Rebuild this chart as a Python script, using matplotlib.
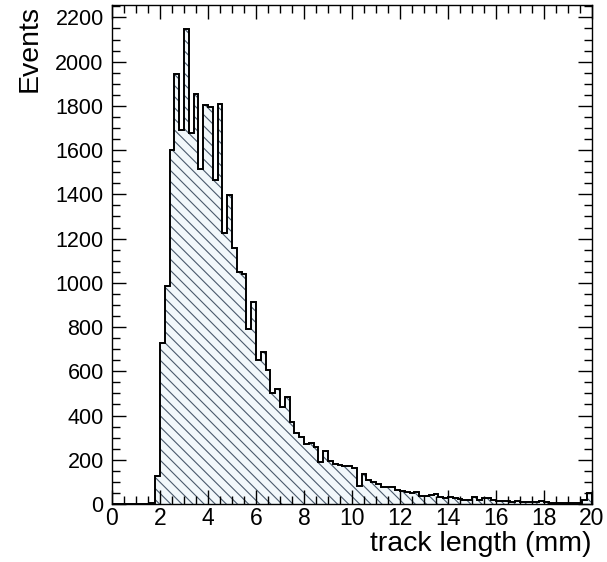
import numpy as np
import matplotlib
matplotlib.use("Agg")
import matplotlib.pyplot as plt
from matplotlib.ticker import MultipleLocator

# Histogram: track length in 0.2 mm bins from 0 to 20 mm
bin_edges = np.linspace(0, 20, 101)
counts = [
    0, 0, 0, 0, 0, 0, 0, 0, 4, 125,          # 0.0 - 2.0
    726, 985, 1602, 1945, 1689, 2148, 1677, 1852, 1516, 1802,   # 2.0 - 4.0
    1795, 1463, 1810, 1225, 1396, 1159, 1049, 1038, 793, 912,   # 4.0 - 6.0
    650, 686, 607, 500, 518, 440, 485, 370, 322, 304,           # 6.0 - 8.0
    270, 277, 259, 192, 240, 195, 180, 176, 170, 170,           # 8.0 - 10.0
    161, 80, 134, 108, 101, 90, 78, 78, 76, 63,                 # 10.0 - 12.0
    59, 56, 48, 53, 38, 38, 41, 44, 33, 29,                     # 12.0 - 14.0
    30, 26, 21, 18, 18, 30, 18, 26, 29, 18,                     # 14.0 - 16.0
    15, 15, 14, 11, 14, 11, 8, 8, 11, 15,                       # 16.0 - 18.0
    8, 3, 3, 5, 3, 6, 6, 6, 18, 51,                             # 18.0 - 20.0
]
x_label = "track length (mm)"
y_label = "Events"

plt.rcParams['font.family'] = ['Liberation Sans', 'DejaVu Sans']
plt.rcParams['hatch.linewidth'] = 0.8

fig = plt.figure(figsize=(6.07, 5.62), dpi=100)
ax = fig.add_axes([112/607, 1-504/562, 480/607, 499/562])

ax.stairs(counts, bin_edges, fill=True, facecolor='#f2f8fb',
          edgecolor='#4a5a6c', hatch='\\\\\\', linewidth=0)
ax.stairs(counts, bin_edges, fill=False, color='black', linewidth=1.4)

ax.set_xlim(0, 20)
ax.set_ylim(0, 2256)
ax.xaxis.set_major_locator(MultipleLocator(2))
ax.xaxis.set_minor_locator(MultipleLocator(0.5))
ax.yaxis.set_major_locator(MultipleLocator(200))
ax.yaxis.set_minor_locator(MultipleLocator(50))

ax.tick_params(which='both', direction='in', top=True, right=True,
               width=1, color='black')
ax.tick_params(which='major', length=10)
ax.tick_params(which='minor', length=5.5)
ax.tick_params(axis='x', which='major', pad=2, labelsize=16.5)
ax.tick_params(axis='y', which='major', pad=6, labelsize=15.5)
for s in ax.spines.values():
    s.set_linewidth(1.0)

ax.set_xlabel(x_label, fontsize=20.5, loc='right', labelpad=1)
ax.set_ylabel(y_label, fontsize=20.5, loc='top', labelpad=9)

fig.savefig("out.png", dpi=100)
